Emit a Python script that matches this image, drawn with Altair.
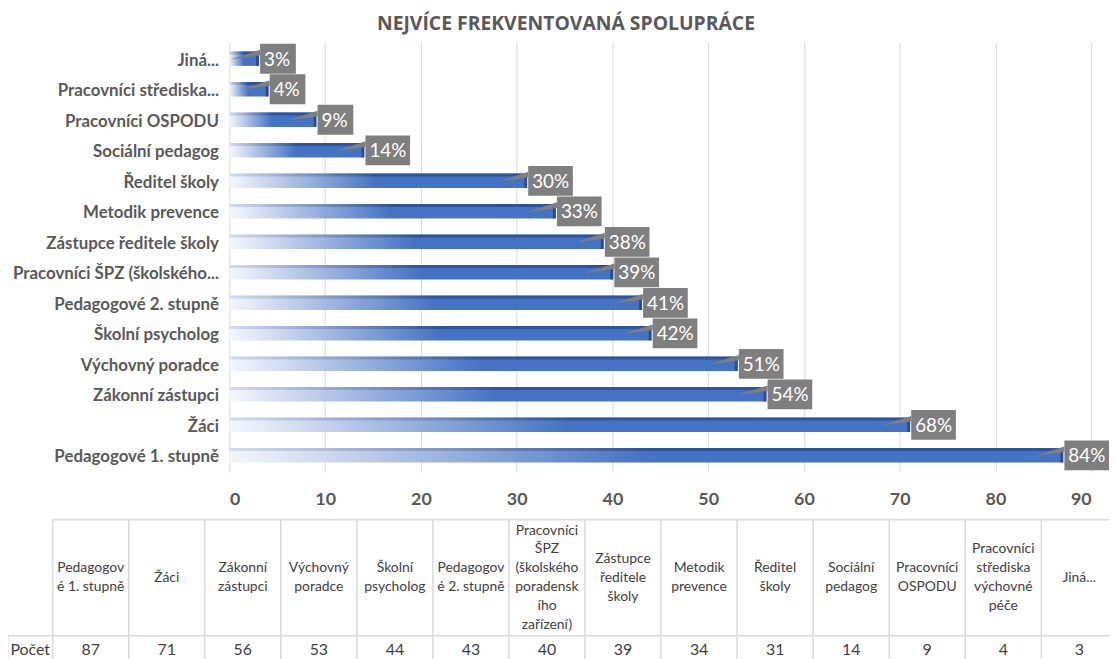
import altair as alt
import pandas as pd

# ---------------- data ----------------
categories = [
    "Pedagogové 1. stupně", "Žáci", "Zákonní zástupci", "Výchovný poradce",
    "Školní psycholog", "Pedagogové 2. stupně", "Pracovníci ŠPZ (školského...",
    "Zástupce ředitele školy", "Metodik prevence", "Ředitel školy",
    "Sociální pedagog", "Pracovníci OSPODU", "Pracovníci střediska...", "Jiná...",
]
counts = [87, 71, 56, 53, 44, 43, 40, 39, 34, 31, 14, 9, 4, 3]
pct_labels = ["84%", "68%", "54%", "51%", "42%", "41%", "39%", "38%", "33%",
              "30%", "14%", "9%", "4%", "3%"]
table_headers = [
    "Pedagogov\né 1. stupně", "Žáci", "Zákonní\nzástupci", "Výchovný\nporadce",
    "Školní\npsycholog", "Pedagogov\né 2. stupně",
    "Pracovníci\nŠPZ\n(školského\nporadensk\ního\nzařízení)",
    "Zástupce\nředitele\nškoly", "Metodik\nprevence", "Ředitel\nškoly",
    "Sociální\npedagog", "Pracovníci\nOSPODU", "Pracovníci\nstřediska\nvýchovné\npéče",
    "Jiná...",
]
row_label = "Počet"
x_ticks = [0, 10, 20, 30, 40, 50, 60, 70, 80, 90]
title_text = "NEJVÍCE FREKVENTOVANÁ SPOLUPRÁCE"

# ---------------- styles ----------------
FONT = "Lato"
GRAY = "#595959"
TXT = "#404040"
BOX = "#7F7F7F"
LINE = "#D9D9D9"
ROW_H = 117        # header row height in px
LINE_H = 19        # header line height in px

df = pd.DataFrame({"cat": categories, "count": counts, "pct": pct_labels})
order = list(reversed(categories))

yenc = alt.Y(
    "cat:N", sort=order,
    scale=alt.Scale(domain=order, paddingInner=0.53, paddingOuter=0.31),
    axis=alt.Axis(title=None, ticks=False, domain=False, labelFont=FONT,
                  labelFontWeight="bold", labelFontSize=17, labelColor=GRAY,
                  labelPadding=11, labelLimit=400, labelOffset=2),
)
xenc = alt.X(
    "count:Q", scale=alt.Scale(domain=[0, 90], nice=False, zero=True),
    axis=alt.Axis(title=None, values=x_ticks, ticks=False, domain=False,
                  grid=True, gridColor=LINE, gridWidth=1, labelFont=FONT,
                  labelFontWeight="bold", labelFontSize=18, labelColor=GRAY,
                  labelPadding=19),
)

main_grad = alt.LinearGradient(
    gradient="linear", x1=0, x2=1, y1=0, y2=0,
    stops=[alt.GradientStop(offset=0, color="#F3F6FB"),
           alt.GradientStop(offset=0.05, color="#E4EAF6"),
           alt.GradientStop(offset=0.5, color="#4472C4"),
           alt.GradientStop(offset=1, color="#4472C4")],
)
edge_grad = alt.LinearGradient(
    gradient="linear", x1=0, x2=1, y1=0, y2=0,
    stops=[alt.GradientStop(offset=0, color="#D3DCEE"),
           alt.GradientStop(offset=0.5, color="#2F5597"),
           alt.GradientStop(offset=1, color="#2F5597")],
)

base = alt.Chart(df)
bars = base.mark_bar(color=main_grad).encode(x=xenc, y=yenc)
edge = base.mark_bar(color=edge_grad, size=3, yOffset=-5.8).encode(x=xenc, y=yenc)
cap = base.mark_rect(color="#2B4C8C", xOffset=-2, x2Offset=1).encode(
    x=xenc, x2=alt.X2("count:Q"), y=yenc)
pointer = base.mark_point(
    shape="M-1,0.05L1,-0.6L1,-0.22Z", filled=True, color=BOX, opacity=1,
    size=900, strokeWidth=0, xOffset=-13,
).encode(x=xenc, y=yenc)
box_short = base.transform_filter("length(datum.pct) < 3").mark_bar(
    color=BOX, size=30, xOffset=2, x2Offset=38).encode(
    x=xenc, x2=alt.X2("count:Q"), y=yenc)
box_long = base.transform_filter("length(datum.pct) >= 3").mark_bar(
    color=BOX, size=30, xOffset=2, x2Offset=47).encode(
    x=xenc, x2=alt.X2("count:Q"), y=yenc)
labels = base.mark_text(
    align="left", baseline="middle", xOffset=6, dy=1, color="white",
    font=FONT, fontSize=19).encode(x=xenc, y=yenc, text="pct:N")

bar_part = alt.layer(bars, edge, cap, pointer, box_short, box_long, labels)

# ---------------- table ----------------
tdf = pd.DataFrame({"idx": list(range(len(table_headers))),
                    "head": table_headers, "count": counts})
n = len(table_headers)
lab_left = -0.59
lines = pd.DataFrame(
    [{"x": b, "x2": b, "y": 0, "y2": 1.4} for b in range(n + 1)]
    + [{"x": lab_left, "x2": lab_left, "y": 1, "y2": 1.4},
       {"x": 0, "x2": n + 0.5, "y": 0, "y2": 0},
       {"x": lab_left, "x2": n + 0.5, "y": 1, "y2": 1}]
)
tx = alt.Scale(domain=[0, n], range=[-178, 894.4], nice=False, zero=False)
ty = alt.Scale(domain=[0, 1], range=[481, 598], nice=False, zero=False)

rules = alt.Chart(lines).mark_rule(color=LINE, strokeWidth=1.5).encode(
    x=alt.X("x:Q", scale=tx, axis=None), x2="x2:Q",
    y=alt.Y("y:Q", scale=ty, axis=None), y2="y2:Q")
heads = alt.Chart(tdf).transform_calculate(
    mid="datum.idx + 0.5",
    hy=f"0.5 - (length(split(datum.head, '\\n')) - 1) * {LINE_H} / 2 / {ROW_H}",
).mark_text(
    lineBreak="\n", lineHeight=LINE_H, align="center", baseline="middle",
    font=FONT, fontSize=14, color=TXT).encode(
    x=alt.X("mid:Q", scale=tx, axis=None),
    y=alt.Y("hy:Q", scale=ty, axis=None), text="head:N")
vals = alt.Chart(tdf).transform_calculate(
    mid="datum.idx + 0.5", cy="1").mark_text(
    align="center", baseline="middle", yOffset=14, font=FONT, fontSize=16,
    color=TXT).encode(
    x=alt.X("mid:Q", scale=tx, axis=None),
    y=alt.Y("cy:Q", scale=ty, axis=None), text="count:Q")
rlab = alt.Chart(pd.DataFrame({"t": [row_label]})).transform_calculate(
    mid=f"{lab_left} / 2", cy="1").mark_text(
    align="center", baseline="middle", yOffset=14, font=FONT, fontSize=16,
    color=TXT).encode(
    x=alt.X("mid:Q", scale=tx, axis=None),
    y=alt.Y("cy:Q", scale=ty, axis=None), text="t:N")

table_part = alt.layer(rules, heads, vals, rlab)

chart = alt.layer(bar_part, table_part).resolve_scale(
    x="independent", y="independent"
).properties(
    width=868, height=433,
    autosize=alt.AutoSizeParams(type="none"),
    padding={"left": 223, "top": 32, "right": 18, "bottom": 186},
    title=alt.TitleParams(title_text, anchor="middle", frame="group", dx=-95,
                          offset=8, font="Open Sans", fontSize=19.5,
                          fontWeight="bold", color=GRAY),
).configure_view(stroke=None)

chart.save("out.html", embed_options={"renderer": "svg", "actions": False})
